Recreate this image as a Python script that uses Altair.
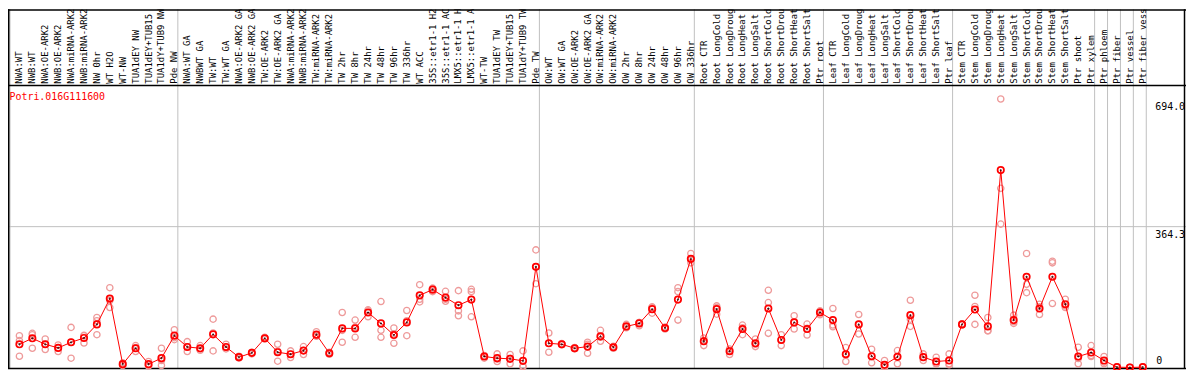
import altair as alt
import pandas as pd

# ---------------- data ----------------
gene = ["Potri.016G111600"]

group_sizes = [13, 28, 12, 10, 10, 11, 1, 1, 1, 1]

labels = [
    "NWA:WT", "NWB:WT", "NWA:OE-ARK2", "NWB:OE-ARK2", "NWA:miRNA-ARK2", "NWB:miRNA-ARK2",
    "NW 0hr", "WT H2O", "WT-NW", "TUA1dEY NW", "TUA1dEY+TUB15 NW", "TUA1dY+TUB9 NW", "Pde NW",
    "NWA:WT GA", "NWBWT GA", "TW:WT", "TW:WT GA", "NWA:OE-ARK2 GA", "NWB:OE-ARK2 GA",
    "TW:OE-ARK2", "TW:OE-ARK2 GA", "NWA:miRNA-ARK2 GA", "NWB:miRNA-ARK2 GA", "TW:miRNA-ARK2",
    "TW:miRNA-ARK2 GA", "TW 2hr", "TW 8hr", "TW 24hr", "TW 48hr", "TW 96hr", "TW 336hr", "WT ACC",
    "35S::etr1-1 H2O", "35S::etr1-1 ACC", "LMX5::etr1-1 H2O", "LMX5::etr1-1 ACC", "WT-TW",
    "TUA1dEY TW", "TUA1dEY+TUB15 TW", "TUA1dY+TUB9 TW", "Pde TW",
    "OW:WT", "OW:WT GA", "OW:OE-ARK2", "OW:OE-ARK2 GA", "OW:miRNA-ARK2", "OW:miRNA-ARK2 GA",
    "OW 2hr", "OW 8hr", "OW 24hr", "OW 48hr", "OW 96hr", "OW 336hr",
    "Root CTR", "Root LongCold", "Root LongDrought", "Root LongHeat", "Root LongSalt",
    "Root ShortCold", "Root ShortDrought", "Root ShortHeat", "Root ShortSalt", "Ptr root",
    "Leaf CTR", "Leaf LongCold", "Leaf LongDrought", "Leaf LongHeat", "Leaf LongSalt",
    "Leaf ShortCold", "Leaf ShortDrought", "Leaf ShortHeat", "Leaf ShortSalt", "Ptr leaf",
    "Stem CTR", "Stem LongCold", "Stem LongDrought", "Stem LongHeat", "Stem LongSalt",
    "Stem ShortCold", "Stem ShortDrought", "Stem ShortHeat", "Stem ShortSalt", "Ptr shoot",
    "Ptr xylem", "Ptr phloem", "Ptr fiber", "Ptr vessel", "Ptr fiber vessel",
]

means = [
    60.7, 76.1, 60.7, 51.3, 65.8, 76.9, 112.0, 178.6, 9.4, 50.4, 9.4, 24.8, 82.9,
    53.8, 50.4, 86.3, 53.8, 27.4, 38.5, 76.1, 40.2, 35.0, 44.4, 85.5, 37.6, 101.7, 101.7,
    142.7, 114.5, 84.6, 117.1, 187.2, 201.7, 181.2, 161.5, 176.1, 29.1, 24.8, 23.1, 17.9, 260.7,
    63.2, 60.7, 50.4, 54.7, 81.2, 53.0, 106.8, 114.5, 151.3, 102.6, 176.1, 281.2,
    68.4, 151.3, 42.7, 100.0, 63.2, 153.0, 71.8, 117.1, 100.0, 142.7,
    123.1, 35.0, 112.0, 29.9, 7.7, 28.2, 135.9, 27.4, 16.2, 18.8,
    112.0, 150.4, 106.8, 510.3, 123.1, 235.0, 153.0, 235.0, 164.1, 29.1, 39.3,
    18.8, 1.7, 0.8, 1.7,
]

rep1 = [
    82.9, 88.9, 74.4, 59.0, 104.3, 83.7, 129.9, 206.8, 12.8, 57.3, 16.2, 50.4, 98.3,
    67.5, 57.3, 125.6, 60.7, 29.9, 40.2, 78.6, 60.7, 43.6, 54.7, 93.2, 40.2, 142.7, 123.1,
    149.6, 170.9, 102.6, 147.9, 214.5, 205.6, 197.4, 199.1, 202.6, 31.6, 35.9, 34.2, 43.6, 304.3,
    89.7, 62.4, 52.1, 65.8, 96.6, 55.6, 112.0, 117.1, 157.3, 105.1, 206.8, 294.9,
    76.9, 159.8, 48.7, 110.3, 74.4, 200.0, 85.5, 134.2, 112.8, 147.0,
    153.0, 52.1, 137.6, 47.9, 18.8, 44.4, 174.4, 35.9, 27.4, 35.9,
    113.7, 187.2, 129.9, 694.0, 135.9, 294.9, 164.1, 275.2, 176.9, 53.0, 57.3,
    29.1, 2.0, 1.2, 2.0,
]
rep2 = [
    70.1, 85.5, 60.7, 51.3, 65.8, 82.9, 121.4, 173.4, 9.4, 52.1, 6.0, 18.8, 77.8,
    53.8, 48.7, 89.7, 52.1, 27.4, 38.5, 76.1, 42.7, 35.0, 44.4, 82.9, 37.6, 96.6, 105.1,
    147.0, 96.6, 88.0, 121.4, 176.9, 202.6, 176.9, 147.0, 196.6, 30.8, 22.2, 24.8, 4.3, 260.7,
    63.2, 60.7, 50.4, 60.7, 78.6, 53.0, 105.1, 117.1, 155.6, 102.6, 196.6, 277.8,
    70.1, 155.6, 44.4, 103.4, 60.7, 168.4, 72.6, 117.1, 101.7, 144.4,
    110.3, 35.0, 112.0, 29.1, 4.3, 29.1, 125.6, 27.4, 10.3, 10.3,
    112.0, 158.1, 95.7, 463.2, 118.8, 215.4, 157.3, 270.9, 159.8, 24.0, 31.6,
    14.5, 1.7, 0.8, 1.7,
]
rep3 = [
    29.9, 50.4, 47.0, 41.9, 24.8, 64.1, 85.5, 155.6, 6.0, 41.9, 4.3, 6.0, 72.6,
    41.9, 45.3, 43.6, 48.7, 24.8, 35.9, 74.4, 17.1, 26.5, 34.2, 81.2, 35.0, 65.8, 78.6,
    131.6, 78.6, 63.2, 82.9, 170.1, 196.6, 171.8, 134.2, 131.6, 24.8, 16.2, 10.3, 2.6, 217.1,
    40.2, 59.0, 48.7, 37.6, 68.4, 50.4, 103.4, 108.5, 141.0, 100.0, 123.1, 270.9,
    57.3, 138.5, 34.2, 85.5, 54.7, 88.9, 57.3, 100.0, 84.6, 136.8,
    106.0, 16.2, 87.2, 12.8, 0.9, 10.3, 106.8, 18.8, 10.3, 7.7,
    110.3, 112.0, 95.7, 370.9, 114.5, 194.0, 137.6, 165.8, 155.6, 10.3, 29.1,
    10.3, 0.5, 0.4, 1.4,
]

y_tick_values = [694.0, 364.3, 0.0]
y_tick_labels = ["694.0", "364.3", "0"]

# ---------------- geometry / styles ----------------
MARGIN = 8            # page margin of the html body
W, H = 1194 - MARGIN, 370 - MARGIN
COL = 13.0            # pixel width of one column
X0 = 19.5 - MARGIN    # pixel of first column centre (chart coords)
PX_PER_UNIT = 0.39    # pixels per expression unit
ZERO_PX = 369.0 - MARGIN  # pixel of value 0 (chart coords)
LABEL_BOTTOM = 83 - MARGIN

y_max = max(rep1 + rep2 + rep3) * 1.05
x_dom = [(0 - X0) / COL, (W - X0) / COL]
y_dom = [(ZERO_PX - H) / PX_PER_UNIT, ZERO_PX / PX_PER_UNIT]

xs = alt.Scale(domain=x_dom, nice=False, zero=False)
ys = alt.Scale(domain=y_dom, nice=False, zero=False)

mono = "DejaVu Sans Mono"

n = len(labels)
df_cols = pd.DataFrame({"idx": list(range(n)), "label": labels, "mean": means})
df_reps = pd.DataFrame({
    "idx": list(range(n)) * 3,
    "value": rep1 + rep2 + rep3,
})

bounds = [0]
for g in group_sizes:
    bounds.append(bounds[-1] + g)
cell_offset = (10 - 19.5) / COL
df_bounds = pd.DataFrame({"b": [b + cell_offset for b in bounds]})

df_ticks_top = pd.DataFrame({"v": y_tick_values[:2], "t": y_tick_labels[:2]})
df_ticks_zero = pd.DataFrame({"v": y_tick_values[2:], "t": y_tick_labels[2:]})
df_gene = pd.DataFrame({"g": gene})
df_one = pd.DataFrame({"k": [0]})

X = lambda f: alt.X(f, type="quantitative", scale=xs, axis=None)
Y = lambda f: alt.Y(f, type="quantitative", scale=ys, axis=None)

vlines = alt.Chart(df_bounds).mark_rule(color="#c0c0c0", strokeWidth=1).encode(
    x=X("b"), y=alt.value(0), y2=alt.value(H)
)

grid_h = alt.Chart(pd.DataFrame({"v": [y_max / 2]})).mark_rule(
    color="#c0c0c0", strokeWidth=1
).encode(y=Y("v"), x=alt.value(0), x2=alt.value(W))

top_line = alt.Chart(pd.DataFrame({"v": [y_max]})).mark_rule(
    color="black", strokeWidth=1.5
).encode(y=Y("v"), x=alt.value(0), x2=alt.value(W))

# frame
frame_l = alt.Chart(df_one).mark_rule(color="black", strokeWidth=1.5).encode(
    x=alt.value(0.75), y=alt.value(0), y2=alt.value(H))
frame_r = alt.Chart(df_one).mark_rule(color="black", strokeWidth=1.5).encode(
    x=alt.value(1192.5 - MARGIN), y=alt.value(0), y2=alt.value(H))
frame_t = alt.Chart(df_one).mark_rule(color="black", strokeWidth=1.5).encode(
    y=alt.value(0.75), x=alt.value(0), x2=alt.value(W))
frame_b = alt.Chart(df_one).mark_rule(color="black", strokeWidth=1.5).encode(
    y=alt.value(ZERO_PX + 0.6), x=alt.value(0), x2=alt.value(W))

col_labels = alt.Chart(df_cols).mark_text(
    font=mono, fontSize=9, angle=270, align="left", baseline="middle",
    color="black", clip=True
).encode(x=X("idx"), y=alt.value(LABEL_BOTTOM), text="label:N")

reps = alt.Chart(df_reps).mark_point(
    shape="circle", filled=False, color="#ee9a9a", size=40, strokeWidth=1.3, opacity=1
).encode(x=X("idx"), y=Y("value"))

line = alt.Chart(df_cols).mark_line(color="#ff0000", strokeWidth=1).encode(
    x=X("idx"), y=Y("mean"), order="idx:Q"
)

mean_pts = alt.Chart(df_cols).mark_point(
    shape="circle", filled=False, color="#ff0000", size=42, strokeWidth=1.7, opacity=1
).encode(x=X("idx"), y=Y("mean"))

mean_dot = alt.Chart(df_cols).mark_point(
    shape="cross", filled=True, color="black", size=5, opacity=0.8
).encode(x=X("idx"), y=Y("mean"))

gene_txt = alt.Chart(df_gene).mark_text(
    font=mono, fontSize=10, align="left", baseline="top", color="#ff0000"
).encode(x=alt.value(9.5 - MARGIN), y=alt.value(91.5 - MARGIN), text="g:N")

ticks_top = alt.Chart(df_ticks_top).mark_text(
    font=mono, fontSize=10, align="left", baseline="top", color="black", dy=3
).encode(x=alt.value(1163 - MARGIN), y=Y("v"), text="t:N")

ticks_zero = alt.Chart(df_ticks_zero).mark_text(
    font=mono, fontSize=10, align="left", baseline="bottom", color="black", dy=-2
).encode(x=alt.value(1164 - MARGIN), y=Y("v"), text="t:N")

chart = alt.layer(
    vlines, grid_h, top_line, frame_l, frame_r, frame_t, frame_b,
    col_labels, reps, line, mean_pts, mean_dot,
    gene_txt, ticks_top, ticks_zero
).properties(
    width=W, height=H, padding=0, autosize="none", background="white"
).configure_view(stroke=None)

chart.save("out.html", embed_options={"renderer": "svg", "actions": False})
